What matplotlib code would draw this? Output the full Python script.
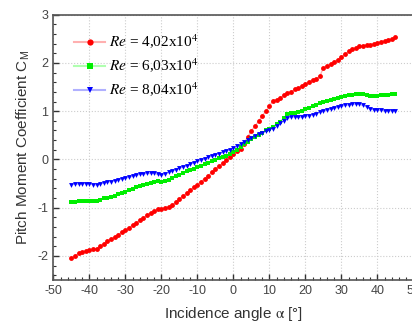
import numpy as np
import matplotlib
matplotlib.use("Agg")
import matplotlib.pyplot as plt
from matplotlib.ticker import MultipleLocator
from matplotlib.lines import Line2D

plt.rcParams['axes.unicode_minus'] = False
plt.rcParams['mathtext.fontset'] = 'stix'
plt.rcParams['font.family'] = ['Liberation Sans', 'DejaVu Sans']

# incidence angles (deg)
alpha = list(range(-45, 46))

# Re = 4,02x10^4
cm_re1 = [-2.05, -2.00, -1.95, -1.92, -1.90, -1.88, -1.86, -1.85, -1.80, -1.75,
          -1.70, -1.66, -1.61, -1.56, -1.51, -1.47, -1.42, -1.36, -1.31, -1.26,
          -1.21, -1.16, -1.11, -1.07, -1.03, -1.02, -1.00, -0.99, -0.94, -0.89,
          -0.82, -0.76, -0.70, -0.64, -0.58, -0.52, -0.46, -0.40, -0.34, -0.27,
          -0.20, -0.14, -0.08, -0.02, 0.05, 0.12, 0.18, 0.22, 0.33, 0.47,
          0.59, 0.69, 0.79, 0.90, 1.00, 1.10, 1.22, 1.24, 1.27, 1.33,
          1.38, 1.40, 1.45, 1.48, 1.52, 1.56, 1.60, 1.65, 1.67, 1.72,
          1.90, 1.94, 1.97, 2.02, 2.07, 2.12, 2.18, 2.24, 2.28, 2.32,
          2.35, 2.36, 2.37, 2.38, 2.40, 2.42, 2.44, 2.46, 2.48, 2.50, 2.53]

# Re = 6,03x10^4
cm_re2 = [-0.89, -0.88, -0.87, -0.86, -0.86, -0.86, -0.86, -0.86, -0.84, -0.81,
          -0.79, -0.77, -0.75, -0.72, -0.70, -0.67, -0.64, -0.61, -0.58, -0.56,
          -0.53, -0.50, -0.48, -0.47, -0.45, -0.47, -0.45, -0.42, -0.38, -0.35,
          -0.32, -0.28, -0.25, -0.22, -0.19, -0.16, -0.13, -0.10, -0.07, -0.04,
          -0.01, 0.02, 0.05, 0.08, 0.12, 0.16, 0.20, 0.26, 0.32, 0.37,
          0.42, 0.46, 0.51, 0.55, 0.60, 0.64, 0.68, 0.73, 0.78, 0.86,
          0.95, 0.97, 0.97, 0.99, 1.01, 1.04, 1.07, 1.10, 1.13, 1.16,
          1.19, 1.21, 1.24, 1.26, 1.28, 1.30, 1.31, 1.33, 1.34, 1.35,
          1.36, 1.35, 1.33, 1.31, 1.31, 1.32, 1.33, 1.34, 1.34, 1.35, 1.36]

# Re = 8,04x10^4
cm_re3 = [-0.52, -0.51, -0.51, -0.50, -0.50, -0.50, -0.52, -0.53, -0.51, -0.49,
          -0.47, -0.46, -0.44, -0.42, -0.40, -0.39, -0.37, -0.35, -0.33, -0.31,
          -0.30, -0.29, -0.29, -0.29, -0.31, -0.33, -0.30, -0.27, -0.24, -0.21,
          -0.18, -0.16, -0.13, -0.10, -0.07, -0.04, -0.02, 0.01, 0.04, 0.07,
          0.10, 0.12, 0.15, 0.18, 0.20, 0.23, 0.27, 0.31, 0.36, 0.41,
          0.45, 0.49, 0.52, 0.55, 0.58, 0.62, 0.64, 0.69, 0.75, 0.80,
          0.85, 0.88, 0.88, 0.87, 0.88, 0.89, 0.91, 0.93, 0.95, 0.98,
          1.00, 1.02, 1.04, 1.06, 1.08, 1.10, 1.12, 1.13, 1.14, 1.15,
          1.14, 1.12, 1.09, 1.05, 1.03, 1.02, 1.02, 1.01, 1.01, 1.01, 1.01]

labels = [r"$Re$ = 4,02x10$^4$", r"$Re$ = 6,03x10$^4$", r"$Re$ = 8,04x10$^4$"]
colors = ["#ff0000", "#00ee00", "#0000ff"]
pale = ["#ffb0b0", "#b0ffb0", "#b0b0ff"]
markers = ["o", "s", "v"]
series = [cm_re1, cm_re2, cm_re3]

fig = plt.figure(figsize=(4.12, 3.27), dpi=100)
ax = fig.add_axes([0.1294, 0.1437, 0.874, 0.8113])

for y, c, p, m in zip(series, colors, pale, markers):
    ax.plot(alpha, y, color=p, lw=1.0, zorder=2)
    ax.plot(alpha, y, ls="none", marker=m, color=c, markersize=3.5,
            markeredgewidth=0, zorder=3)

ax.set_xlim(-50, 50)
ax.set_ylim(-2.5, 3)
ax.xaxis.set_major_locator(MultipleLocator(10))
ax.xaxis.set_minor_locator(MultipleLocator(2))
ax.yaxis.set_major_locator(MultipleLocator(1))
ax.yaxis.set_minor_locator(MultipleLocator(0.2))
ax.tick_params(which="both", direction="in", colors="#333333", labelsize=9,
               labelcolor="#444444", top=False, right=False)
ax.tick_params(which="major", length=4, width=1)
ax.tick_params(which="minor", length=2.5, width=0.8)
for s in ax.spines.values():
    s.set_color("#555555")
    s.set_linewidth(1.2)
ax.grid(True, which="major", ls=":", color="#cccccc", lw=0.8)

ax.set_xlabel(r"Incidence angle $\mathrm{\alpha}$ [°]", fontsize=11,
              color="#333333", labelpad=6)
ax.set_ylabel(r"Pitch Moment Coefficient C$_\mathregular{M}$", fontsize=11,
              color="#333333", labelpad=4)

handles = [(Line2D([], [], color=p, lw=1.5),
            Line2D([], [], color=c, marker=m, markersize=4.5, ls="none",
                   markeredgewidth=0))
           for c, p, m in zip(colors, pale, markers)]
ax.legend(handles, labels, loc="upper left", frameon=False,
          bbox_to_anchor=(0.02, 0.985), handlelength=2.0,
          prop={"family": "Liberation Serif", "size": 11}, labelspacing=0.4,
          handletextpad=0.3)

fig.savefig("out.png", dpi=100)
